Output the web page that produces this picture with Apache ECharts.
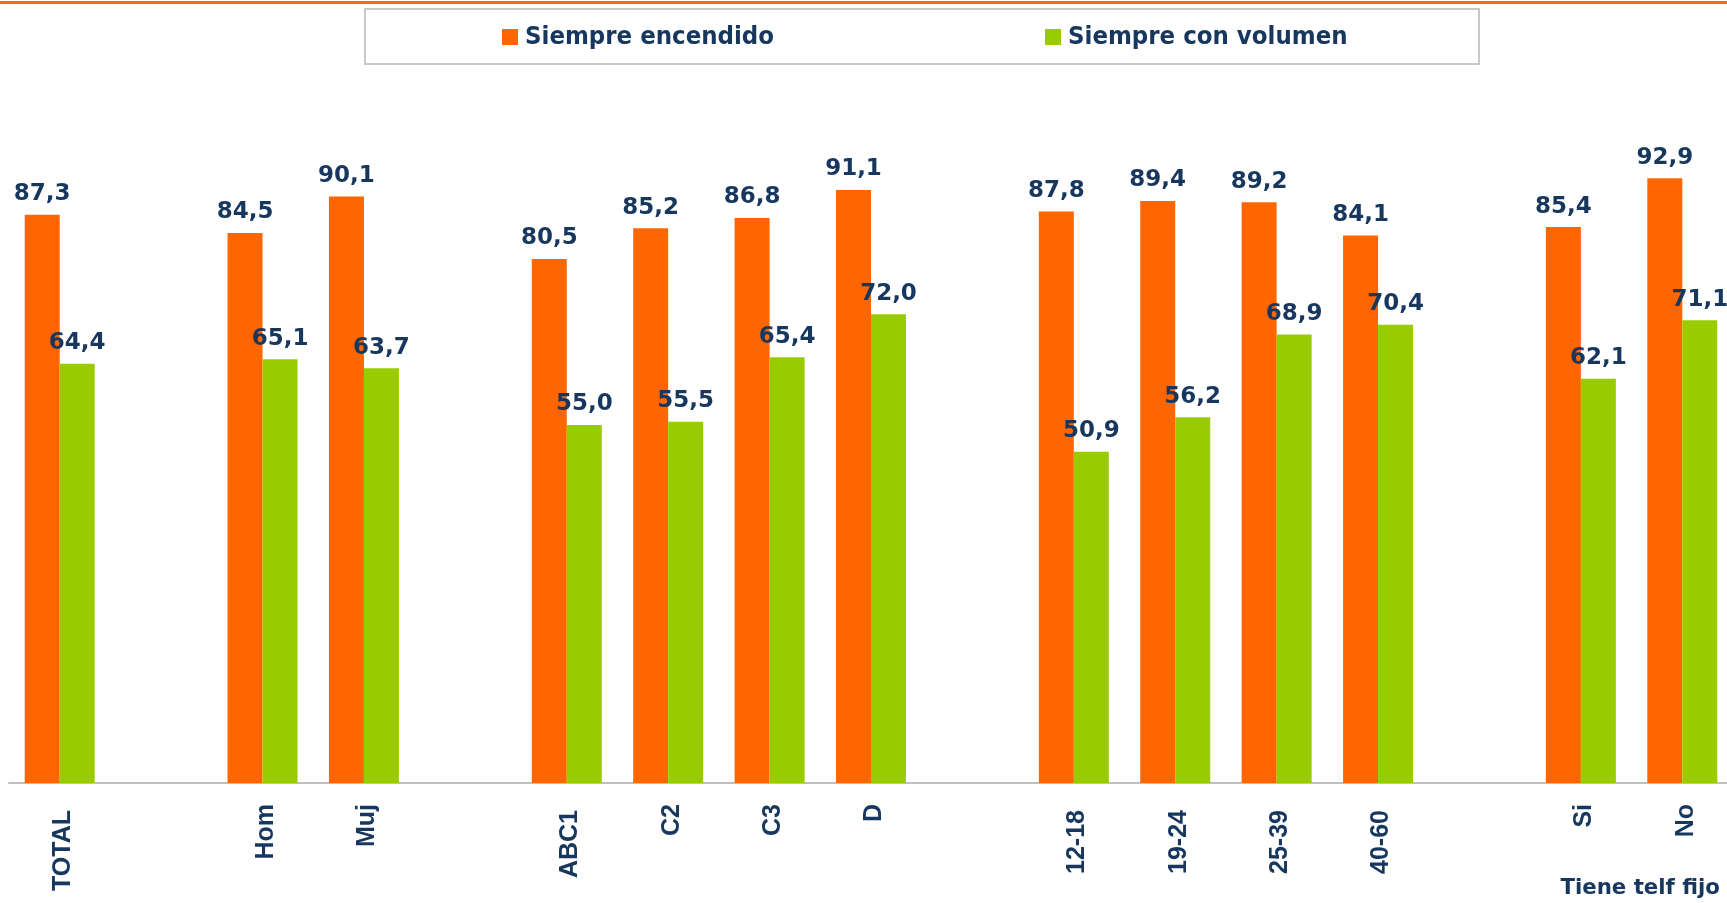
<!DOCTYPE html>
<html>
<head>
<meta charset="utf-8">
<script src="https://cdn.jsdelivr.net/npm/echarts@6/dist/echarts.min.js"></script>
<style>
html,body{margin:0;padding:0;background:#fff;overflow:hidden;width:1727px;height:903px;}
#chart{width:1740px;height:903px;}
</style>
</head>
<body>
<div id="chart"></div>
<script>
var categories = ['TOTAL', '', 'Hom', 'Muj', '', 'ABC1', 'C2', 'C3', 'D', '', '12-18', '19-24', '25-39', '40-60', '', 'Si', 'No'];
var siempreEncendido = [87.3, null, 84.5, 90.1, null, 80.5, 85.2, 86.8, 91.1, null, 87.8, 89.4, 89.2, 84.1, null, 85.4, 92.9];
var siempreConVolumen = [64.4, null, 65.1, 63.7, null, 55.0, 55.5, 65.4, 72.0, null, 50.9, 56.2, 68.9, 70.4, null, 62.1, 71.1];
var seriesNames = ['Siempre encendido', 'Siempre con volumen'];
var groupTitle = 'Tiene telf fijo';

var NAVY = '#17375E';
var ORANGE = '#FF6600';
var GREEN = '#99CC00';

function fmt(p) { return p.value == null ? '' : p.value.toFixed(1).replace('.', ','); }

var labelStyle = {
  show: true, position: 'top', distance: 9, formatter: fmt,
  fontFamily: 'DejaVu Sans', fontWeight: 'bold', fontSize: 23, color: NAVY
};

var chart = echarts.init(document.getElementById('chart'), null, {renderer: 'canvas'});
chart.setOption({
  animation: false,
  backgroundColor: '#ffffff',
  grid: {left: 9, top: 132, width: 1724, height: 651, containLabel: false},
  legend: {
    data: seriesNames,
    left: 502, top: 24, padding: 0,
    itemWidth: 16, itemHeight: 16, itemGap: 271,
    icon: 'rect',
    textStyle: {fontFamily: 'DejaVu Sans Condensed, DejaVu Sans', fontWeight: 'bold', fontSize: 25.5, color: NAVY, padding: [0, 0, 0, 2]}
  },
  xAxis: {
    type: 'category',
    data: categories,
    axisLine: {lineStyle: {color: '#C0C0C0', width: 2}},
    axisTick: {show: false},
    axisLabel: {
      rotate: 90, margin: 21, interval: 0,
      fontFamily: 'Liberation Sans', fontWeight: 'bold', fontSize: 25, color: NAVY,
      formatter: function (v) { return v.length >= 4 ? '{l|' + v + '}' : '{s|' + v + '}'; },
      rich: {
        l: {fontFamily: 'Liberation Sans', fontWeight: 'bold', fontSize: 25, color: NAVY, padding: [7, 6, 0, 0]},
        s: {fontFamily: 'Liberation Sans', fontWeight: 'bold', fontSize: 25, color: NAVY, padding: [7, 0, 0, 0]}
      }
    }
  },
  yAxis: {type: 'value', min: 0, max: 100, show: false, splitLine: {show: false}},
  series: [
    {name: seriesNames[0], type: 'bar', data: siempreEncendido, barWidth: 35, barGap: '0%',
     itemStyle: {color: ORANGE}, label: labelStyle},
    {name: seriesNames[1], type: 'bar', data: siempreConVolumen, barWidth: 35, barGap: '0%',
     itemStyle: {color: GREEN}, label: labelStyle}
  ],
  graphic: [
    {type: 'rect', shape: {x: 0, y: 1, width: 1740, height: 3}, style: {fill: ORANGE}, z: 10},
    {type: 'rect', shape: {x: 365, y: 9, width: 1114, height: 55}, style: {fill: 'none', stroke: '#C8C8C8', lineWidth: 2}, z: 0},
    {type: 'text', style: {x: 1720, y: 899, text: groupTitle, textAlign: 'right', textVerticalAlign: 'bottom',
      font: 'bold 21.3px "DejaVu Sans"', fill: NAVY}}
  ]
});
</script>
</body>
</html>
